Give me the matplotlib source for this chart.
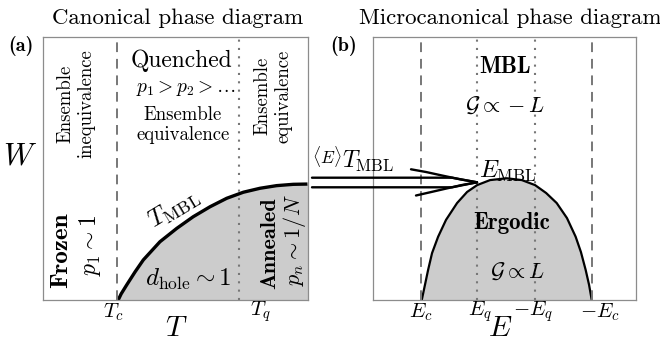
import matplotlib
matplotlib.use("Agg")
import matplotlib.pyplot as plt
from matplotlib.lines import Line2D

plt.rcParams['mathtext.fontset'] = 'cm'
plt.rcParams['font.family'] = 'cmr10'
plt.rcParams['axes.formatter.use_mathtext'] = True

W_PX, H_PX = 660, 343

# canonical panel (box units 0..10 on both axes)
t_c = 2.78
t_q = 7.41
tmbl_T = [2.83, 2.94, 3.15, 3.47, 3.78, 4.41, 5.05, 5.67, 6.31, 6.94, 7.57, 8.20, 8.83, 9.46, 10.0]
tmbl_W = [0.0, 0.23, 0.57, 1.07, 1.52, 2.21, 2.72, 3.16, 3.54, 3.86, 4.09, 4.24, 4.34, 4.39, 4.40]

# microcanonical panel
e_c = [1.83, 8.33]      # E_c, -E_c
e_q = [3.97, 6.17]      # E_q, -E_q
embl_E = [1.87, 1.95, 2.11, 2.26, 2.49, 2.79, 3.21, 3.59, 3.97, 4.46, 5.09,
          5.67, 6.17, 6.59, 6.99, 7.38, 7.71, 7.91, 8.09, 8.22, 8.32]
embl_W = [0.0, 0.38, 1.14, 1.78, 2.40, 3.04, 3.68, 4.10, 4.36, 4.55, 4.62,
          4.55, 4.36, 4.06, 3.68, 3.11, 2.40, 1.82, 1.14, 0.57, 0.0]

tick_left = ['$T_c$', '$T_q$']
tick_right = ['$E_c$', '$E_q$', '$-E_q$', '$-E_c$']


def px(x, y):
    # pixel position -> figure fraction
    return x / W_PX, 1 - y / H_PX


def setup(ax):
    ax.set_xlim(0, 10)
    ax.set_ylim(0, 10)
    ax.set_xticks([])
    ax.set_yticks([])
    for s in ax.spines.values():
        s.set_color('#8c8c8c')
        s.set_linewidth(0.9)


fig = plt.figure(figsize=(6.6, 3.43), dpi=100)
ax1 = fig.add_axes([43.5 / W_PX, 43 / H_PX, 264 / W_PX, 263.5 / H_PX])
ax2 = fig.add_axes([372.5 / W_PX, 43 / H_PX, 263.5 / W_PX, 263.5 / H_PX])
setup(ax1)
setup(ax2)

# left panel
ax1.fill_between(tmbl_T, tmbl_W, 0, color='#cccccc', lw=0)
ax1.plot(tmbl_T, tmbl_W, color='black', lw=2.4, solid_capstyle='butt')
ax1.axvline(t_c, color='#777777', lw=1.4, ls=(0, (5, 3.5)))
ax1.axvline(t_q, color='#777777', lw=1.5, ls=(0, (1, 3)))

# right panel
ax2.fill_between(embl_E, embl_W, 0, color='#cccccc', lw=0)
ax2.plot(embl_E, embl_W, color='black', lw=1.6)
for e in e_c:
    ax2.axvline(e, color='#777777', lw=1.4, ls=(0, (5, 3.5)))
for e in e_q:
    ax2.axvline(e, color='#777777', lw=1.5, ls=(0, (1, 3)))

# titles and panel letters
fig.text(*px(178, 18), 'Canonical phase diagram', fontsize=16.5, ha='center', va='center')
fig.text(*px(510, 18), 'Microcanonical phase diagram', fontsize=16.5, ha='center', va='center')
fig.text(*px(21, 46), '(a)', fontsize=14.5, ha='center', va='center', family='cmb10')
fig.text(*px(344, 46), '(b)', fontsize=14.5, ha='center', va='center', family='cmb10')

# axis labels
fig.text(*px(20, 157), '$W$', fontsize=22, ha='center', va='center')
fig.text(*px(176, 329), '$T$', fontsize=21, ha='center', va='center')
fig.text(*px(500, 329), '$E$', fontsize=21, ha='center', va='center')
for lab, x in zip(tick_left, [113, 260]):
    fig.text(*px(x, 312), lab, fontsize=15, ha='center', va='center')
for lab, x in zip(tick_right, [421, 480, 533, 600]):
    fig.text(*px(x, 312), lab, fontsize=15, ha='center', va='center')

# left panel annotations
fig.text(*px(76, 104), 'Ensemble\ninequivalence', fontsize=13.5, rotation=90,
         ha='center', va='center', linespacing=1.15)
fig.text(*px(181, 61), 'Quenched', fontsize=17, ha='center', va='center')
fig.text(*px(186, 89), r'$p_1 > p_2 > \ldots$', fontsize=14, ha='center', va='center')
fig.text(*px(183, 125), 'Ensemble\nequivalence', fontsize=13.5, ha='center', va='center',
         linespacing=1.15)
fig.text(*px(273, 96), 'Ensemble\nequivalence', fontsize=13.5, rotation=90,
         ha='center', va='center', linespacing=1.15)
fig.text(*px(174, 209), r'$T_{\rm MBL}$', fontsize=18, rotation=31, ha='center', va='center')
fig.text(*px(61, 250), 'Frozen', fontsize=18, rotation=90, ha='center', va='center',
         family='cmb10')
fig.text(*px(90, 246), r'$p_1 \sim 1$', fontsize=17, rotation=90, ha='center', va='center')
fig.text(*px(188, 279), r'$d_{\rm hole} \sim 1$', fontsize=18, ha='center', va='center')
fig.text(*px(270, 243), 'Annealed', fontsize=16, rotation=90, ha='center', va='center',
         family='cmb10')
fig.text(*px(294, 240), r'$p_n \sim 1/N$', fontsize=16, rotation=90, ha='center', va='center')

# right panel annotations
fig.text(*px(505, 67), 'MBL', fontsize=16.5, ha='center', va='center', family='cmb10')
fig.text(*px(505, 105), r'$\mathcal{G} \propto -L$', fontsize=16, ha='center', va='center')
fig.text(*px(508, 171), r'$E_{\rm MBL}$', fontsize=17.5, ha='center', va='center')
fig.text(*px(512, 223), 'Ergodic', fontsize=16.5, ha='center', va='center', family='cmb10')
fig.text(*px(517, 271), r'$\mathcal{G} \propto L$', fontsize=16, ha='center', va='center')

# double arrow from T_MBL to E_MBL
fig.text(*px(312, 163), r'$\langle E \rangle$', fontsize=12.5, ha='left', va='baseline')
fig.text(*px(342, 168), r'$T_{\rm MBL}$', fontsize=17, ha='left', va='baseline')
tip = (477, 182.3)
shafts = [
    [(312, 177.7), (452, 177.7), tip],
    [(312, 187.3), (452, 187.3), tip],
    [(411, 169.3), (426, 172.0), (442, 175.5), (460, 179.3), tip],
    [(416, 195.5), (430, 192.3), (446, 188.6), (462, 185.0), tip],
]
for pts in shafts:
    xs = [px(p[0], p[1])[0] for p in pts]
    ys = [px(p[0], p[1])[1] for p in pts]
    fig.add_artist(Line2D(xs, ys, color='black', lw=1.7, transform=fig.transFigure,
                          solid_capstyle='round', solid_joinstyle='round'))

fig.savefig('out.png', dpi=100)
